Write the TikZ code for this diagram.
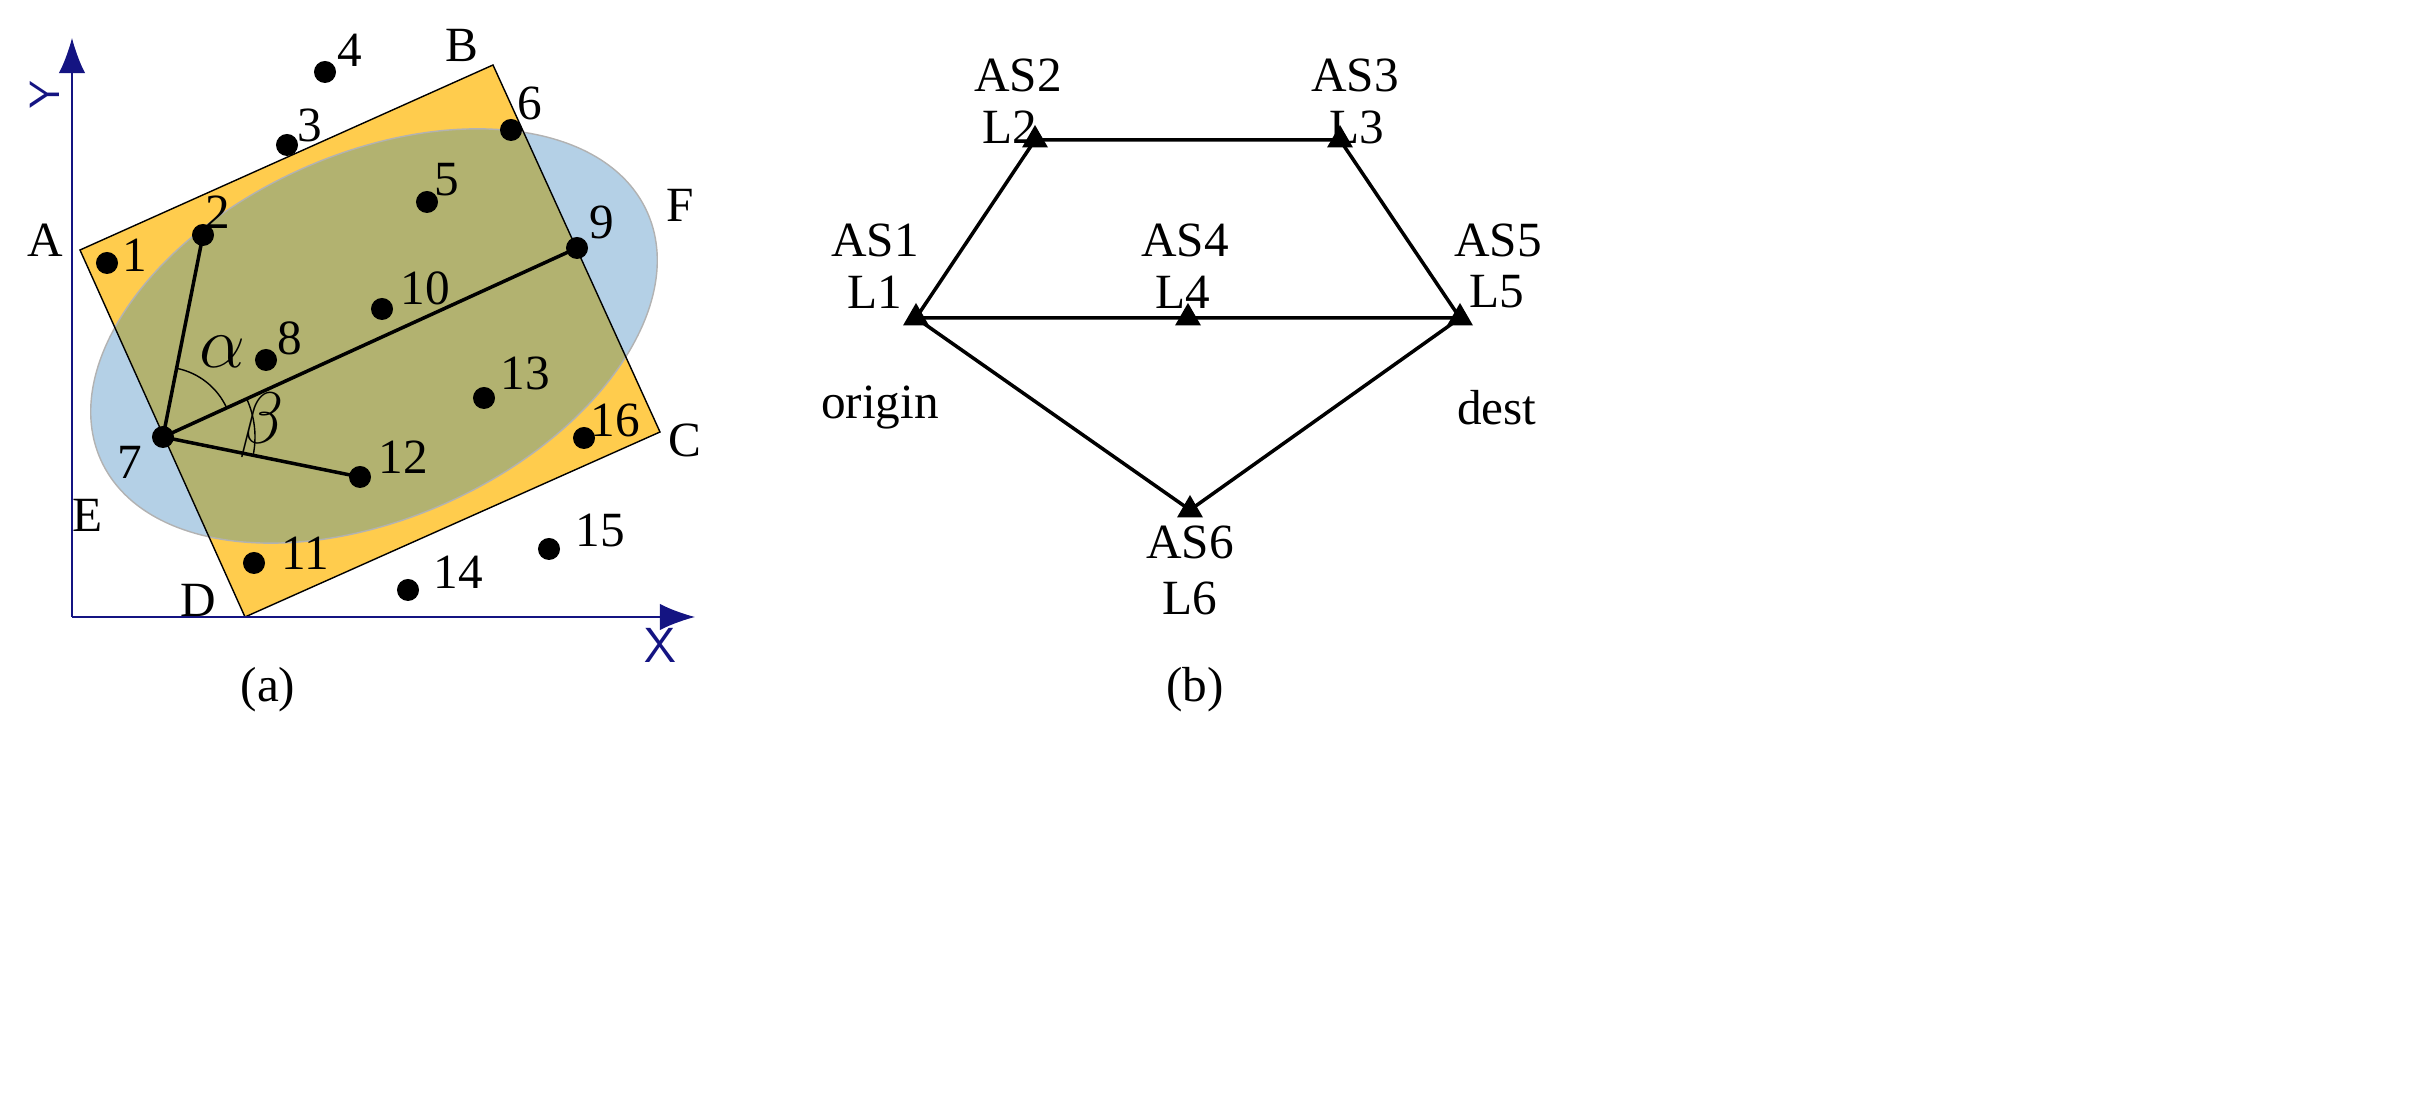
\documentclass[tikz,border=0pt]{standalone}
\usepackage{fontspec}
\setmainfont{Liberation Serif}
\usetikzlibrary{arrows.meta,calc,shapes.geometric}
\definecolor{rectY}{RGB}{255,204,77}
\definecolor{ellB}{RGB}{180,208,230}
\definecolor{olive}{RGB}{178,178,112}
\definecolor{axis}{RGB}{20,20,130}
\begin{document}
\begin{tikzpicture}[x=0.01cm,y=-0.01cm,
  lab/.style={font=\fontsize{14}{16}\selectfont,inner sep=0pt},
  pt/.style={circle,fill=black,inner sep=0pt,minimum size=0.22cm},
  tri/.style={regular polygon,regular polygon sides=3,fill=black,inner sep=0pt,minimum size=0.3cm},
  edge/.style={line width=1pt}]
\useasboundingbox (0,0) rectangle (2426,1107);
\fill[ellB] (374,336) [rotate around={24.5:(374,336)}] ellipse [x radius=300, y radius=182];
\fill[rectY] (80,250) -- (493,65) -- (660,432) -- (245,617) -- cycle;
\begin{scope}
\clip (80,250) -- (493,65) -- (660,432) -- (245,617) -- cycle;
\fill[olive] (374,336) [rotate around={24.5:(374,336)}] ellipse [x radius=300, y radius=182];
\end{scope}
\draw[gray!60] (374,336) [rotate around={24.5:(374,336)}] ellipse [x radius=300, y radius=182];
\draw (80,250) -- (493,65) -- (660,432) -- (245,617) -- cycle;
% axes
\coordinate (O) at (72,617);
\coordinate (Ytop) at (72,38);
\coordinate (Xend) at (695,617);
\draw[axis,-{Latex[length=10pt]}] (O) -- (Ytop);
\draw[axis,-{Latex[length=10pt]}] (O) -- (Xend);
\node[axis,font=\sffamily\fontsize{12}{14}\selectfont,rotate=90] (ly) at (45,95) {Y};
\node[axis,font=\sffamily\fontsize{14}{16}\selectfont] (lx) at (660,645) {X};
% points
\foreach \n/\x/\y/\lx/\ly in {1/107/263/135/255,2/203/235/218/212,3/287/145/310/125,4/325/72/350/50,5/427/202/447/180,6/511/130/530/103,7/163/437/130/462,8/266/360/290/338,9/577/248/602/222,10/382/309/425/288,11/254/563/305/553,12/360/477/403/457,13/484/398/525/373,14/408/590/458/572,15/549/549/600/530,16/584/438/615/420}
{\node[pt] (p\n) at (\x,\y) {}; \node[lab] (t\n) at (\lx,\ly) {\n};}
\draw[edge] (p7.center) -- (p2.center);
\draw[edge] (p7.center) -- (p9.center);
\draw[edge] (p7.center) -- (p12.center);
\draw (163,437) ++(-78.9:70) arc[start angle=-78.9,end angle=-24.5,radius=70];
\draw (163,437) ++(-24.5:92) arc[start angle=-24.5,end angle=12.1,radius=92];
\node[lab,font=\fontsize{20}{22}\selectfont] (alpha) at (222,352) {$\mathrm{\alpha}$};
\node[lab,font=\fontsize{20}{22}\selectfont] (beta) at (262,425) {$\beta$};
\foreach \t/\x/\y in {A/45/240,B/462/45,C/685/440,D/198/600,E/88/515,F/680/205}
\node[lab] (L\t) at (\x,\y) {\t};
\node[lab] (capa) at (268,690) {(a)};
% right panel
\node[tri] (n1) at (916,318) {};
\node[tri] (n2) at (1035,140) {};
\node[tri] (n3) at (1340,140) {};
\node[tri] (n4) at (1188,318) {};
\node[tri] (n5) at (1460,318) {};
\node[tri] (n6) at (1190,510) {};
\draw[edge] (n1.center) -- (n2.center) -- (n3.center) -- (n5.center) -- (n4.center) -- (n1.center) -- (n6.center) -- (n5.center);
\foreach \t/\x/\y in {AS2/1018/75,L2/1010/127,AS3/1355/75,L3/1357/127,AS1/875/240,L1/875/292,AS4/1185/240,L4/1183/292,AS5/1498/240,L5/1497/292,AS6/1190/542,L6/1190/598}
\node[lab] (l\t) at (\x,\y) {\t};
\node[lab] (orig) at (880,408) {origin};
\node[lab] (dest) at (1497,408) {dest};
\node[lab] (capb) at (1195,690) {(b)};
\end{tikzpicture}
\end{document}
